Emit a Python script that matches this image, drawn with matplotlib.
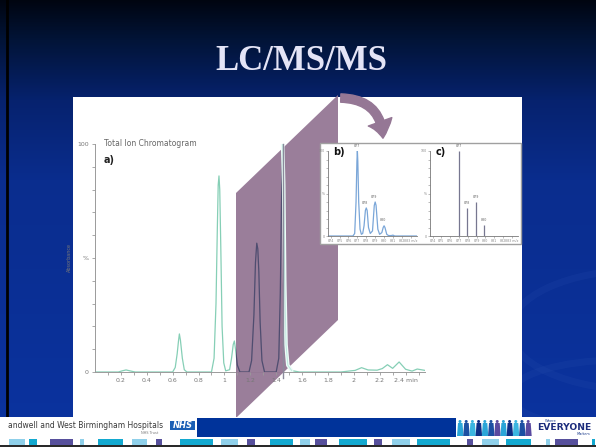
import matplotlib
matplotlib.use('Agg')
import matplotlib.pyplot as plt
import numpy as np
from matplotlib.patches import Polygon, Rectangle, FancyArrowPatch, Ellipse

# total ion chromatogram (a)
tic_time = [0.00, 0.18, 0.21, 0.24, 0.27, 0.31, 0.60, 0.62, 0.635, 0.645, 0.652, 0.66, 0.675, 0.69, 0.71,
            0.90, 0.92, 0.935, 0.945, 0.952, 0.958, 0.964, 0.972, 0.982, 0.995, 1.01,
            1.04, 1.055, 1.068, 1.077, 1.086, 1.10, 1.12,
            1.19, 1.21, 1.228, 1.240, 1.250, 1.258, 1.266, 1.276, 1.29, 1.31,
            1.40, 1.42, 1.432, 1.442, 1.450, 1.458, 1.466, 1.476, 1.49, 1.52, 1.58,
            1.90, 1.96, 2.01, 2.06, 2.11, 2.18, 2.22, 2.26, 2.30, 2.35, 2.40, 2.45, 2.49, 2.52, 2.55]
tic_abund = [0, 0, 0.5, 0.9, 0.5, 0, 0, 2, 8, 13.5, 16.7, 14, 6, 1, 0,
             0, 6, 30, 62, 82, 86, 80, 55, 20, 4, 0.5,
             1, 6, 12, 13.6, 10, 3, 0,
             0, 5, 25, 48, 56.5, 54, 44, 22, 5, 0,
             0, 6, 35, 78, 100, 82, 40, 12, 3, 0.6, 0,
             0, 0.4, 0.7, 1.9, 0.9, 0.8, 1.5, 3.2, 1.6, 4.4, 1.2, 0.4, 1.3, 1.0, 0.7]
tic_ticks = [0.2, 0.4, 0.6, 0.8, 1, 1.2, 1.4, 1.6, 1.8, 2, 2.2, 2.4]
tic_ticklabels = ['0.2', '0.4', '0.6', '0.8', '1', '1.2', '1.4', '1.6', '1.8', '2', '2.2', '2.4 min']
marker_time = 1.455

# mass spectrum (b), profile
ms_mz = [873.7, 876.5, 876.7, 876.85, 876.95, 877.0, 877.05, 877.15, 877.3, 877.45, 877.6,
         877.75, 877.9, 878.0, 878.1, 878.25, 878.45, 878.7, 878.9, 879.0, 879.1, 879.3, 879.5,
         879.75, 879.9, 880.0, 880.1, 880.3, 880.5, 880.8, 881.0, 881.2, 883.7]
ms_int = [0, 0, 3, 40, 88, 100, 88, 40, 8, 2, 3,
          12, 30, 33, 30, 10, 3, 6, 36, 40, 36, 8, 2,
          4, 10, 12, 10, 2, 0.5, 0.5, 1, 0, 0]
# mass spectrum (c), centroid
stick_mz = [877.0, 877.9, 878.9, 879.85]
stick_int = [100, 33, 40, 13]
peak_labels = ['877', '878', '879', '880']
ms_ticks = [874, 875, 876, 877, 878, 879, 880, 881, 882, 883]
ms_ticklabels = ['874', '875', '876', '877', '878', '879', '880', '881', '882', '883 m/z']

W, H = 596, 447
GREEN = '#86cfb6'
PURPLE = '#957795'
STRIPES = [(9, 25, 'l'), (29, 37, 't'), (50, 73, 'p'), (80, 84, 'l'), (98, 123, 't'), (132, 147, 'l'),
           (156, 162, 'p'), (180, 213, 't'), (221, 238, 'l'), (247, 255, 'p'), (270, 293, 't'),
           (300, 310, 'l'), (315, 327, 'p'), (339, 367, 't'), (374, 382, 'p'), (392, 410, 'l'),
           (417, 450, 't'), (467, 473, 'p'), (482, 499, 'l'), (506, 531, 't'), (546, 550, 'l'),
           (555, 578, 'p'), (592, 595, 't')]
STRIPE_COL = {'l': '#8fd0ea', 't': '#13a9d0', 'p': '#57509c'}


def draw_background(ax):
    stops_y = [0, 40, 100, 180, H]
    stops_c = np.array([[0, 5, 16], [2, 20, 56], [6, 34, 110], [10, 45, 142], [11, 51, 160]]) / 255.
    ys = np.arange(H)
    img = np.stack([np.interp(ys, stops_y, stops_c[:, k]) for k in range(3)], axis=1)
    img = np.repeat(img[:, None, :], 2, axis=1)
    ax.imshow(img, extent=(0, W, H, 0), aspect='auto', zorder=0)
    # faint swooshes on the right
    for cx, cy, w, h in [(640, 330, 260, 120), (620, 395, 220, 70)]:
        ax.add_patch(Ellipse((cx, cy), w, h, fill=False, ec='#2a50b0', lw=5, alpha=0.18, zorder=0.5))
    ax.plot([7, 7], [0, H], color='black', lw=2, zorder=1)
    ax.add_patch(Rectangle((73, 97), 522 - 73, 417 - 97, fc='white', ec='none', zorder=1))


def draw_footer(ax):
    ax.add_patch(Rectangle((8, 417), W - 8, H - 417, fc='white', ec='none', zorder=1))
    ax.add_patch(Rectangle((197, 418), 456 - 197, 437 - 418, fc='#00339a', ec='none', zorder=2))
    ax.add_patch(Rectangle((0, 417), 8, H - 417, fc='white', ec='none', zorder=1))
    for x0, x1, c in STRIPES:
        ax.add_patch(Rectangle((x0, 439), x1 - x0, 6, fc=STRIPE_COL[c], ec='none', zorder=2))
    ax.plot([0, W], [446, 446], color='black', lw=1.2, zorder=3)
    ax.text(8, 426, 'andwell and West Birmingham Hospitals', fontsize=5.5, color='#3a3a3a',
            ha='left', va='center', zorder=3)
    ax.add_patch(Rectangle((170, 420.5), 25, 9, fc='#1b5fb5', ec='none', zorder=3))
    ax.text(182.5, 425.2, 'NHS', fontsize=6, color='white', fontweight='bold', style='italic',
            ha='center', va='center', zorder=4)
    ax.text(150, 433, 'NHS Trust', fontsize=2.5, color='#777777', ha='center', va='center', zorder=3)
    # the little row of people
    cols = ['#2aa6d8', '#1c4fa2', '#3bb6e0', '#0d2f86', '#2aa6d8', '#1c4fa2', '#5a4aa0', '#2aa6d8',
            '#0d2f86', '#3bb6e0', '#1c4fa2', '#5a4aa0']
    for i, c in enumerate(cols):
        x = 458 + i * 6.2
        ax.add_patch(Ellipse((x + 2, 421.5), 3, 3, fc=c, ec='none', zorder=3))
        ax.add_patch(Polygon([(x, 423), (x + 4.5, 423), (x + 5.5, 436), (x - 1, 436)],
                             fc=c, ec='none', zorder=3))
    ax.text(545, 420.5, 'Where', fontsize=2.6, color='#1c3c8c', ha='left', va='center', zorder=3)
    ax.text(537, 427.5, 'EVERYONE', fontsize=6.6, color='#1c2c7c', fontweight='bold',
            ha='left', va='center', zorder=3)
    ax.text(577, 434, 'Matters', fontsize=2.6, color='#1c3c8c', style='italic', ha='left',
            va='center', zorder=3)


def plot_tic(fig, ax_px):
    ax = fig.add_axes([95 / W, 1 - 372 / H, 330 / W, 228 / H], facecolor='none')
    ax.plot(tic_time, tic_abund, color=GREEN, lw=0.9, zorder=2)
    shape = Polygon([(236, 193), (338, 95), (338, 320), (236, 418)], closed=True,
                    transform=ax_px.transData, fc=PURPLE, ec='none', alpha=0.95, zorder=3, clip_on=False)
    ax.add_patch(shape)
    dark, = ax.plot(tic_time, tic_abund, color='#4f4d70', lw=0.9, zorder=4)
    dark.set_clip_path(shape)
    t = np.array(tic_time)
    a = np.array(tic_abund)
    m = (t >= 1.45) & (t <= 1.53)
    ax.plot(t[m], a[m], color='#eefcf8', lw=2.6, zorder=5, solid_capstyle='round')
    ax.plot(t[m], a[m], color='#bfeadf', lw=0.7, zorder=5)
    ax.plot([marker_time, marker_time], [-2.5, 100], color='#8b8a9c', lw=1.0, zorder=6, clip_on=False)

    ax.set_xlim(0, 2.55)
    ax.set_ylim(0, 100)
    for s in ['top', 'right']:
        ax.spines[s].set_visible(False)
    for s in ['left', 'bottom']:
        ax.spines[s].set_color('#9a9a9a')
        ax.spines[s].set_linewidth(0.7)
    ax.set_xticks(tic_ticks)
    ax.set_xticklabels(tic_ticklabels)
    ax.set_xticks(np.arange(0.1, 2.55, 0.2), minor=True)
    ax.set_yticks([0, 50, 100])
    ax.set_yticklabels(['0', '%', '100'])
    ax.set_yticks(np.arange(10, 100, 10), minor=True)
    ax.tick_params(which='both', direction='out', colors='#9a9a9a', labelcolor='#777777',
                   labelsize=4.5, width=0.6)
    ax.tick_params(which='major', length=2.5, pad=2)
    ax.tick_params(which='minor', length=2)
    ax.xaxis.set_zorder(5)
    ax.set_ylabel('Absorbance', fontsize=3.5, color='#777777', labelpad=4)
    ax.text(0.07, 100, 'Total Ion Chromatogram', fontsize=5.5, color='#666666', va='center',
            ha='left', family='Liberation Sans Narrow')
    ax.text(0.07, 93, 'a)', fontsize=7, color='#222222', fontweight='bold', va='center', ha='left')
    return ax


def style_ms(ax, label):
    ax.set_xlim(873.7, 883.7)
    ax.set_ylim(0, 100)
    for s in ['top', 'right']:
        ax.spines[s].set_visible(False)
    for s in ['left', 'bottom']:
        ax.spines[s].set_color('#777777')
        ax.spines[s].set_linewidth(0.6)
    ax.set_xticks(ms_ticks)
    ax.set_xticklabels(ms_ticklabels)
    ax.set_yticks([0, 50, 100])
    ax.set_yticklabels(['0', '%', '100'])
    ax.set_yticks(np.arange(10, 100, 10), minor=True)
    ax.tick_params(which='both', direction='out', colors='#888888', labelsize=2.3, length=1.2,
                   width=0.4, pad=1)
    ax.text(874.3, 99, label, fontsize=7, fontweight='bold', color='#111111', va='center')
    for x, y, s in zip(stick_mz, stick_int, peak_labels):
        ax.text(x, y + 3, s, fontsize=2.3, color='#666666', ha='center', va='bottom')


def plot_spectra(fig, ax_px):
    ax_px.add_patch(Rectangle((320, 143), 201, 101, fc='white', ec='#a0a0a0', lw=1.0, zorder=5))
    ax_b = fig.add_axes([328 / W, 1 - 236 / H, 89 / W, 85 / H], facecolor='none')
    ax_b.plot(ms_mz, ms_int, color='#7aa6d8', lw=0.9)
    style_ms(ax_b, 'b)')
    ax_c = fig.add_axes([430 / W, 1 - 236 / H, 88 / W, 85 / H], facecolor='none')
    ax_c.vlines(stick_mz, 0, stick_int, color='#777790', lw=0.9)
    style_ms(ax_c, 'c)')


if __name__ == '__main__':
    fig = plt.figure(figsize=(W / 100, H / 100), dpi=100)
    ax_px = fig.add_axes([0, 0, 1, 1])
    ax_px.set_xlim(0, W)
    ax_px.set_ylim(H, 0)
    ax_px.axis('off')
    draw_background(ax_px)
    ax_px.text(301, 61, 'LC/MS/MS', fontsize=25, fontweight='bold', family='Liberation Serif',
               color='#e4e4f6', ha='center', va='center')

    plot_tic(fig, ax_px)

    # top layer in pixel coords: footer, inset frame, arrow
    ax_top = fig.add_axes([0, 0, 1, 1], facecolor='none')
    ax_top.set_xlim(0, W)
    ax_top.set_ylim(H, 0)
    ax_top.axis('off')
    draw_footer(ax_top)
    arrow = FancyArrowPatch((338, 98), (383, 141), connectionstyle='angle3,angleA=0,angleB=90',
                            arrowstyle='simple,head_width=18,head_length=12,tail_width=6',
                            color=PURPLE, zorder=4)
    ax_top.add_patch(arrow)
    plot_spectra(fig, ax_top)

    fig.savefig('out.png', dpi=100)
